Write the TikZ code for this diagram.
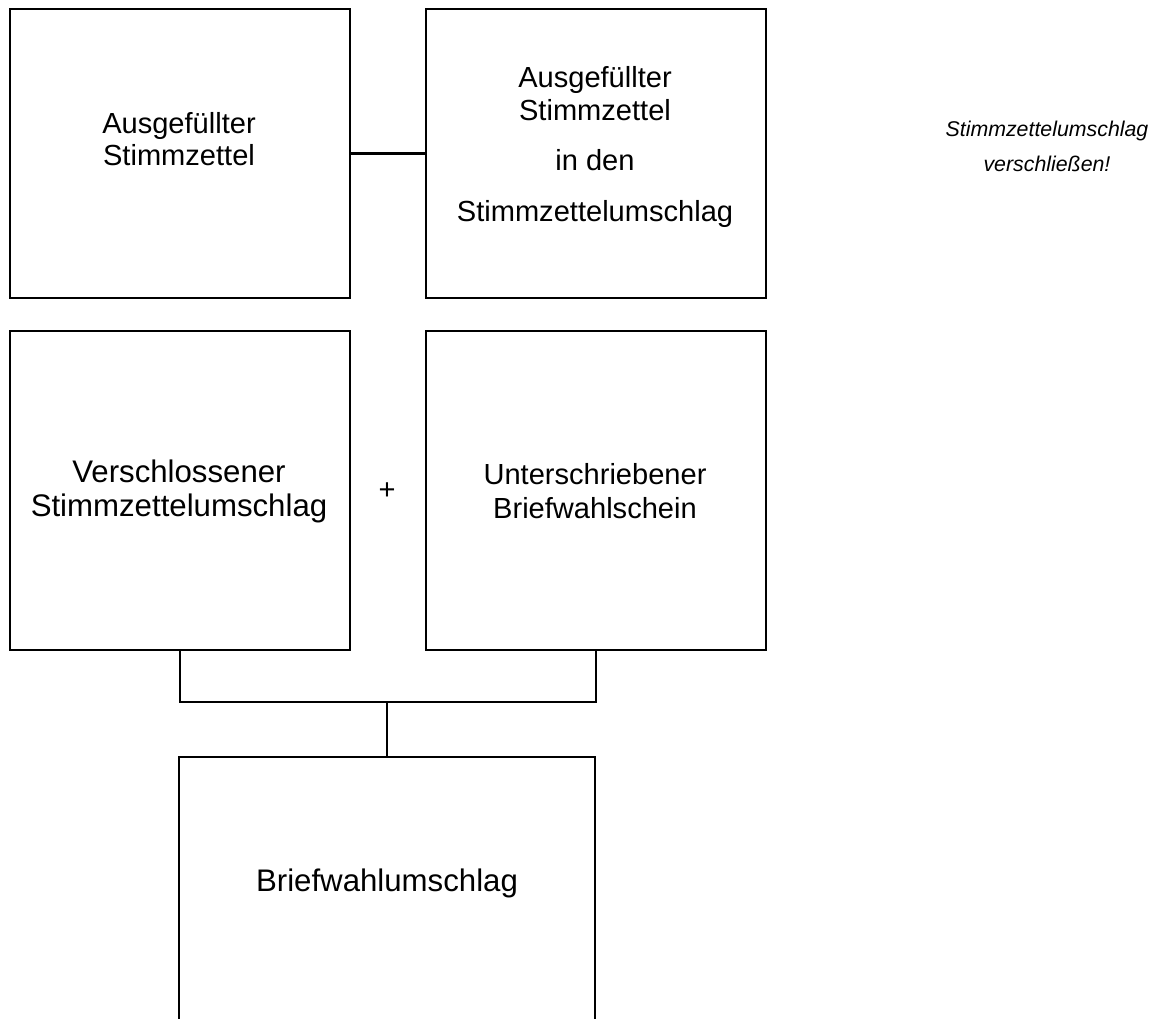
\documentclass[tikz,border=0pt]{standalone}
\usepackage{fontspec}
\setmainfont{Liberation Sans}
\begin{document}
\begin{tikzpicture}[x=0.75pt,y=-0.75pt,
  box/.style={draw=black,line width=1.7pt,inner sep=0pt,anchor=north west},
  conn/.style={draw=black,line width=1.7pt},
  txt/.style={anchor=base,inner sep=0pt,font=\fontsize{21.8pt}{24pt}\selectfont},
  bigtxt/.style={anchor=base,inner sep=0pt,font=\fontsize{23.4pt}{26pt}\selectfont},
  note/.style={anchor=base,inner sep=0pt,font=\fontsize{16pt}{18pt}\selectfont\itshape}]
\useasboundingbox (0,0) rectangle (1158,1019);
% boxes
\node[box,minimum width=255pt,minimum height=216.75pt] (A) at (9,8) {};
\node[box,minimum width=255pt,minimum height=216.75pt] (B) at (425,8) {};
\node[box,minimum width=255pt,minimum height=239.25pt] (C) at (9,330) {};
\node[box,minimum width=255pt,minimum height=239.25pt] (D) at (425,330) {};
% open box E
\coordinate (E1) at (179,1019);
\coordinate (E2) at (179,757);
\coordinate (E3) at (595,757);
\coordinate (E4) at (595,1019);
\draw[conn] (E1) -- (E2) -- (E3) -- (E4);
% connectors
\draw[conn] (A.east) -- (B.west);
\coordinate (J) at (387,702);
\draw[conn] (C.south) |- (J) -| (D.south);
\draw[conn] (J) -- (E2 -| J);
% texts
\node[txt] (a1) at (179,134) {Ausgefüllter};
\node[txt] (a2) at (179,166) {Stimmzettel};
\node[txt] (b1) at (595,88) {Ausgefüllter};
\node[txt] (b2) at (595,121) {Stimmzettel};
\node[txt] (b3) at (595,171) {in den};
\node[txt] (b4) at (595,222) {Stimmzettelumschlag};
\node[bigtxt] (c1) at (179,483) {Verschlossener};
\node[bigtxt] (c2) at (179,517) {Stimmzettelumschlag};
\node[txt] (d1) at (595,485) {Unterschriebener};
\node[txt] (d2) at (595,519) {Briefwahlschein};
\node[txt] (plus) at (387,500) {+};
\node[bigtxt] (e1) at (387,892) {Briefwahlumschlag};
\node[note] (n1) at (1047,137) {Stimmzettelumschlag};
\node[note] (n2) at (1047,172) {verschließen!};
\end{tikzpicture}
\end{document}
